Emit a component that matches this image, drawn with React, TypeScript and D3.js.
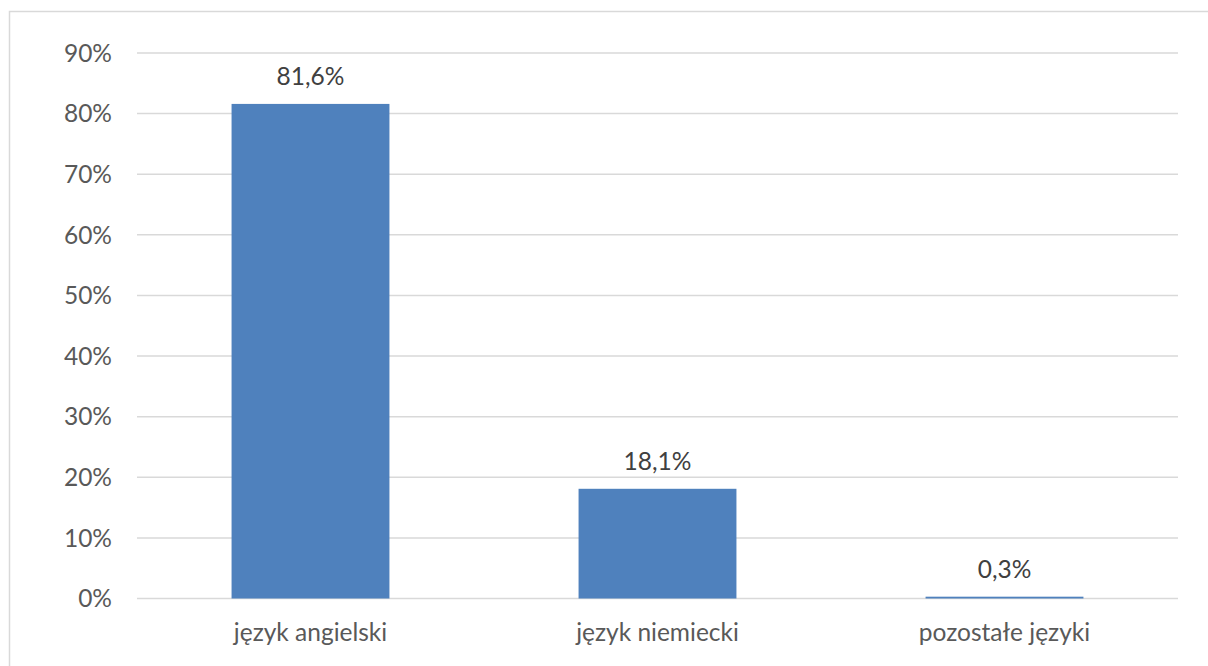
import React from "react";
import * as d3 from "d3";

const categories = ["język angielski", "język niemiecki", "pozostałe języki"];
const values = [81.6, 18.1, 0.3];
const valueLabels = ["81,6%", "18,1%", "0,3%"];
const yTicks = [0, 10, 20, 30, 40, 50, 60, 70, 80, 90];

const W = 1208;
const H = 666;
const left = 137;
const right = 1178;
const top = 53;
const bottom = 598.5;
const FONT = "Lato, 'Open Sans', sans-serif";
const TEXT = "#595959";

export default function App() {
  const x = d3.scaleBand<string>().domain(categories).range([left, right]).paddingInner(0.545).paddingOuter(0.2725);
  const y = d3.scaleLinear().domain([0, 90]).range([bottom, top]);
  return (
    <svg width={W} height={H} style={{ position: "absolute", left: 0, top: 0, background: "#fff" }}>
      <rect x={9.5} y={11.5} width={1210} height={700} fill="#fff" stroke="#D9D9D9" strokeWidth={1.5} />
      {yTicks.map((t) => (
        <g key={t}>
          <line x1={left} x2={right} y1={y(t)} y2={y(t)} stroke="#D9D9D9" strokeWidth={1.5} />
          <text x={112} y={y(t)} dy="0.36em" textAnchor="end" fontFamily={FONT} fontSize={24.5} fill={TEXT}>
            {t}%
          </text>
        </g>
      ))}
      {categories.map((c, i) => (
        <g key={c}>
          <rect x={x(c)} y={y(values[i])} width={x.bandwidth()} height={bottom - y(values[i])} fill="#4F81BD" />
          <text x={(x(c) as number) + x.bandwidth() / 2} y={y(values[i]) - 19} textAnchor="middle" fontFamily={FONT} fontSize={24.5} fill="#404040">
            {valueLabels[i]}
          </text>
          <text x={(x(c) as number) + x.bandwidth() / 2} y={641} textAnchor="middle" fontFamily={FONT} fontSize={24.5} fill={TEXT}>
            {c}
          </text>
        </g>
      ))}
    </svg>
  );
}
